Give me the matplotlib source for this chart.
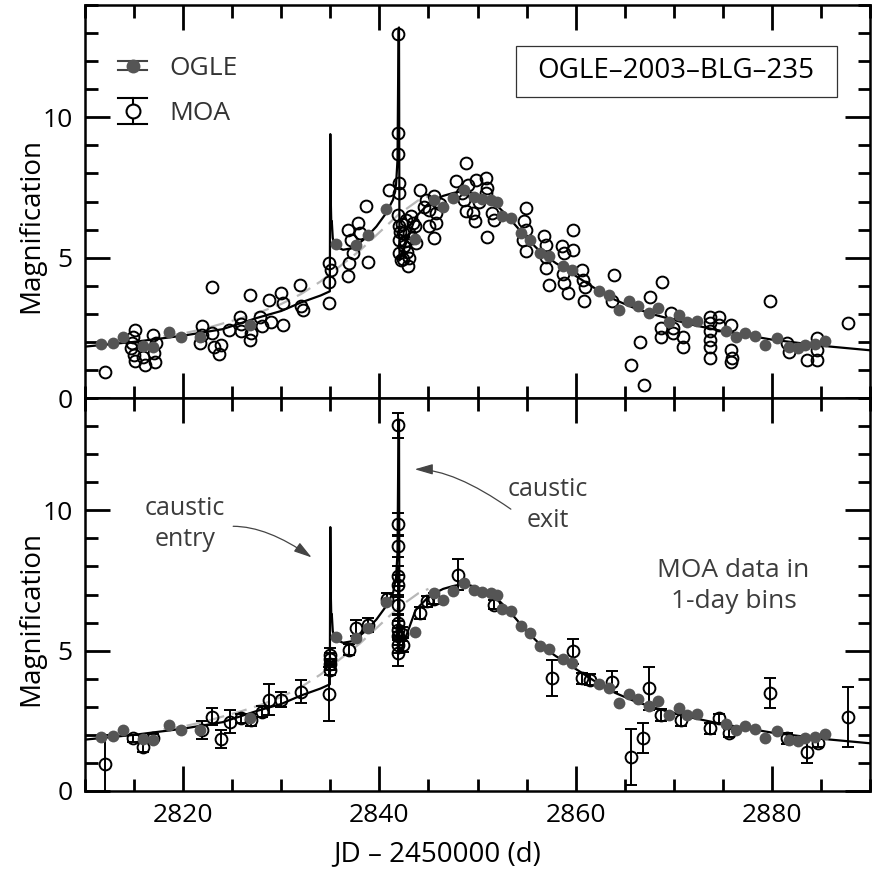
import matplotlib
matplotlib.use('Agg')
import matplotlib.pyplot as plt
from matplotlib.legend_handler import HandlerBase
from matplotlib.lines import Line2D
from matplotlib.patches import Rectangle
from matplotlib.ticker import MultipleLocator

plt.rcParams['font.family'] = ['Open Sans', 'DejaVu Sans']

# OGLE photometry (JD - 2450000, magnification)
ogle_t = [2811.6, 2812.9, 2813.9, 2815.9, 2816.9, 2818.6, 2819.8, 2821.7, 2826.8,
          2835.6, 2837.6, 2838.8, 2840.7, 2843.6, 2845.6, 2846.5, 2847.5, 2848.6,
          2849.6, 2850.5, 2851.4, 2852.0, 2852.5, 2853.4, 2854.4, 2855.4, 2856.4,
          2857.3, 2858.7, 2859.6, 2862.4, 2863.4, 2864.4, 2865.4, 2866.4, 2867.5,
          2868.4, 2869.5, 2870.5, 2871.4, 2872.4, 2875.3, 2876.3, 2877.3, 2878.3,
          2879.3, 2880.5, 2881.7, 2882.7, 2883.4, 2884.4, 2885.4]
ogle_A = [1.93, 1.95, 2.17, 1.85, 1.80, 2.36, 2.19, 2.19, 2.61,
          5.50, 5.45, 5.82, 6.74, 5.66, 7.07, 6.80, 7.14, 7.42,
          7.16, 7.10, 7.04, 7.00, 6.50, 6.41, 5.89, 5.62, 5.18,
          5.07, 4.69, 4.55, 3.82, 3.68, 3.14, 3.44, 3.28, 3.04,
          3.22, 2.70, 2.96, 2.70, 2.73, 2.37, 2.19, 2.31, 2.22,
          1.89, 2.15, 1.80, 1.77, 1.88, 1.92, 2.04]

# MOA photometry, unbinned (top panel)
moa_t = [2812.0, 2815.1, 2814.9, 2814.7, 2815.0, 2815.1, 2816.1, 2816.9, 2817.2, 2817.1,
         2815.9, 2814.8, 2817.0,
         2821.9, 2821.9, 2821.7, 2822.9, 2822.9, 2823.1, 2823.9, 2823.7, 2824.7, 2825.8,
         2825.9, 2825.9, 2826.8, 2826.9, 2826.8, 2827.8, 2828.0, 2828.8, 2829.0, 2830.0,
         2830.2, 2830.2, 2831.9, 2832.0, 2832.2, 2834.9, 2835.1, 2834.9, 2834.9,
         2836.8, 2837.1, 2836.95, 2836.8, 2837.3, 2837.8, 2838.0, 2838.6, 2838.8, 2841.0,
         2842.0, 2842.0, 2841.9, 2841.9, 2841.9, 2841.9,
         2842.0, 2842.4, 2842.7, 2843.05, 2843.6, 2842.0, 2842.0, 2842.2, 2842.9, 2843.05,
         2842.5, 2843.7, 2843.2, 2842.3, 2842.6, 2842.8, 2843.3, 2842.1, 2842.4, 2843.4,
         2844.1, 2844.75, 2845.6, 2845.1, 2845.1, 2845.8, 2845.6, 2845.8, 2844.5, 2846.2,
         2847.8, 2848.8, 2848.6, 2848.8, 2849.8, 2849.7, 2850.85, 2851.0, 2851.0, 2850.85,
         2851.5, 2851.7, 2849.0, 2848.4, 2850.2, 2849.5,
         2854.9, 2854.75, 2854.9, 2854.9, 2854.6, 2856.8, 2857.0, 2857.0, 2857.0, 2857.3,
         2858.6, 2858.8, 2859.7, 2859.7, 2858.8, 2859.2, 2860.7, 2860.85, 2861.0, 2858.7,
         2860.8,
         2863.7, 2863.9, 2867.6, 2868.8, 2866.6, 2865.6, 2867.0, 2868.65, 2868.7, 2869.7,
         2869.9, 2869.9, 2870.9, 2870.9,
         2873.7, 2873.7, 2873.7, 2873.7, 2873.7, 2873.7, 2874.6, 2874.6, 2875.8, 2875.8,
         2875.9, 2875.8,
         2879.8, 2881.5, 2881.7, 2883.6, 2884.6, 2884.6, 2884.6, 2887.8]
moa_A = [0.94, 2.43, 2.16, 1.77, 1.53, 1.33, 1.18, 2.25, 1.95, 1.29,
         1.47, 1.95, 1.60,
         2.55, 2.25, 1.95, 3.97, 2.31, 1.83, 1.89, 1.57, 2.43, 2.90,
         2.64, 2.37, 3.68, 2.31, 2.07, 2.90, 2.55, 3.50, 2.72, 3.74,
         3.38, 2.60, 4.03, 3.26, 3.14, 4.81, 4.57, 4.15, 3.40,
         6.00, 5.64, 4.81, 4.33, 5.16, 6.23, 5.88, 6.83, 4.86, 7.42,
         7.66, 7.30, 9.45, 8.70, 12.98, 6.53,
         6.11, 5.88, 6.35, 5.88, 6.11, 5.64, 5.16, 4.92, 4.69, 4.98,
         5.40, 5.52, 6.47, 6.20, 5.60, 5.20, 5.70, 5.90, 4.95, 6.25,
         7.42, 7.07, 7.19, 6.71, 6.11, 6.23, 5.70, 6.59, 6.80, 6.90,
         7.72, 8.38, 7.07, 6.65, 7.78, 6.29, 7.84, 7.48, 5.73, 7.30,
         6.59, 6.35, 7.60, 7.30, 7.00, 6.59,
         6.77, 6.29, 6.00, 5.22, 5.64, 5.76, 5.46, 5.04, 4.63, 4.03,
         5.40, 5.16, 6.00, 5.28, 4.09, 3.73, 4.57, 3.44, 3.97, 4.40,
         4.20,
         3.44, 4.39, 3.61, 4.12, 2.01, 1.17, 0.46, 2.19, 2.49, 3.02,
         2.49, 2.31, 2.19, 1.83,
         2.90, 2.66, 2.07, 1.83, 1.41, 2.40, 2.90, 2.60, 2.60, 1.71,
         1.41, 1.30,
         3.44, 1.95, 1.65, 1.35, 1.35, 1.71, 2.13, 2.66]

# MOA photometry in 1-day bins (bottom panel)
bin_t = [2812.0, 2814.9, 2815.9, 2816.9, 2821.9, 2822.9, 2823.9, 2824.75, 2825.9, 2826.9,
         2828.0, 2828.8, 2830.0, 2832.0, 2834.9, 2834.95, 2834.95, 2834.95, 2834.95,
         2836.95, 2837.6, 2838.8, 2840.8,
         2841.9, 2841.9, 2841.9, 2841.9, 2841.9, 2841.9, 2841.9, 2841.9, 2841.9, 2841.9,
         2841.9, 2842.3, 2842.4, 2844.1, 2844.9, 2845.6, 2848.0, 2851.7,
         2857.6, 2859.7, 2860.7, 2861.5, 2863.7, 2865.6, 2866.9, 2867.5, 2868.65, 2870.7,
         2873.7, 2874.6, 2875.6, 2879.8, 2881.5, 2883.6, 2884.75, 2887.8]
bin_A = [0.96, 1.88, 1.56, 1.88, 2.18, 2.65, 1.84, 2.47, 2.59, 2.53,
         2.83, 3.25, 3.25, 3.54, 3.45, 4.32, 4.52, 4.70, 4.85,
         5.03, 5.81, 5.93, 6.85,
         13.03, 9.50, 8.72, 7.65, 7.35, 6.62, 5.98, 5.75, 5.51, 5.21,
         4.91, 5.60, 5.20, 6.34, 6.76, 6.85, 7.71, 6.64,
         4.02, 4.97, 4.02, 3.96, 3.90, 1.22, 1.90, 3.66, 2.71, 2.53,
         2.24, 2.59, 2.06, 3.49, 1.88, 1.40, 1.70, 2.65]
bin_err = [1.04, 0.12, 0.18, 0.15, 0.32, 0.30, 0.32, 0.42, 0.15, 0.20,
           0.20, 0.55, 0.27, 0.42, 0.95, 0.20, 0.20, 0.20, 0.25,
           0.20, 0.28, 0.25, 0.20,
           0.45, 0.40, 0.40, 0.35, 0.35, 0.30, 0.30, 0.30, 0.30, 0.30,
           0.47, 0.25, 0.25, 0.20, 0.20, 0.20, 0.54, 0.15,
           0.63, 0.46, 0.20, 0.20, 0.39, 1.00, 0.54, 0.77, 0.20, 0.20,
           0.20, 0.15, 0.15, 0.54, 0.20, 0.42, 0.15, 1.07]

# binary-lens model curve
model_t = [2810, 2815, 2820, 2824, 2827.5, 2830, 2832, 2834, 2834.95, 2835.0, 2835.05,
           2835.1, 2835.15, 2835.25, 2835.5, 2836.3, 2837.3, 2838.6, 2839.7, 2840.7,
           2841.4, 2841.7, 2841.85, 2841.95, 2842.0, 2842.05, 2842.3, 2842.7, 2843.7,
           2845.1, 2846.5, 2847.5, 2848.6, 2849.5, 2850.5, 2852, 2853, 2854, 2855, 2856,
           2857, 2858, 2859, 2860, 2862, 2864, 2866, 2868, 2870, 2872, 2875, 2878, 2880,
           2883, 2886, 2890]
model_A = [1.83, 2.0, 2.22, 2.45, 2.85, 3.1, 3.4, 3.65, 3.8, 9.4, 7.0,
           6.2, 6.3, 5.7, 5.4, 5.28, 5.34, 5.7, 6.11, 6.59,
           7.07, 7.6, 8.5, 13.1, 13.2, 4.9, 5.1, 5.5, 6.45,
           6.95, 7.2, 7.3, 7.38, 7.3, 7.15, 6.85, 6.5, 6.1, 5.7, 5.35,
           5.05, 4.8, 4.6, 4.35, 3.9, 3.5, 3.2, 2.97, 2.78, 2.6, 2.38, 2.2, 2.08,
           1.95, 1.83, 1.7]

# single-lens curve (grey dashed)
single_t = [2818, 2820, 2822, 2824, 2826, 2828, 2830, 2832, 2834, 2836, 2838, 2840,
            2842, 2844, 2845]
single_A = [2.2, 2.3, 2.45, 2.65, 2.85, 3.08, 3.35, 3.7, 4.15, 4.7, 5.25, 5.9,
            6.55, 7.05, 7.2]

ogle_col = '#555555'


class ErrKey(HandlerBase):
    def __init__(self, half, filled):
        super().__init__()
        self.half = half
        self.filled = filled

    def create_artists(self, legend, orig_handle, xdescent, ydescent, width, height,
                       fontsize, trans):
        cx = 0.5 * width - xdescent
        cy = 0.5 * (height - ydescent)
        h, w = self.half, 10.5
        col = '#444444' if self.filled else 'k'
        arts = [Line2D([cx, cx], [cy - h, cy + h], color=col, lw=1.5),
                Line2D([cx - w, cx + w], [cy + h, cy + h], color=col, lw=1.5),
                Line2D([cx - w, cx + w], [cy - h, cy - h], color=col, lw=1.5)]
        if self.filled:
            arts.append(Line2D([cx], [cy], marker='o', ms=10, color=ogle_col, mew=0))
        else:
            arts.append(Line2D([cx], [cy], marker='o', ms=10, mfc='white', mec='k', mew=1.5))
        for art in arts:
            art.set_transform(trans)
        return arts


def style_axes(ax):
    ax.set_xlim(2810, 2890)
    ax.set_ylim(0, 14)
    ax.xaxis.set_major_locator(MultipleLocator(20))
    ax.xaxis.set_minor_locator(MultipleLocator(5))
    ax.yaxis.set_major_locator(MultipleLocator(5))
    ax.yaxis.set_minor_locator(MultipleLocator(1))
    ax.tick_params(which='both', direction='in', top=True, right=True, width=2,
                   color='k', labelsize=19, pad=9)
    ax.tick_params(which='major', length=18)
    ax.tick_params(which='minor', length=9)
    for sp in ax.spines.values():
        sp.set_linewidth(1.8)


fig = plt.figure(figsize=(8.79, 8.76), dpi=100)
ax1 = fig.add_axes([85 / 879, 1 - 398 / 876, 785 / 879, 393 / 876])
ax2 = fig.add_axes([85 / 879, 1 - 791 / 876, 785 / 879, 393 / 876], sharex=ax1)

for ax in (ax1, ax2):
    ax.set_axisbelow(False)
    ax.plot(single_t, single_A, color='#b8b8b8', lw=1.6, ls=(0, (7, 3.5)), zorder=2)
    ax.plot(model_t, model_A, color='k', lw=1.6, zorder=2.1)
    ax.plot(ogle_t, ogle_A, 'o', color=ogle_col, ms=8.5, mew=0, zorder=4)
    ax.set_ylabel('Magnification', fontsize=20)
    ax.yaxis.set_label_coords(-0.05, 0.44)

ax1.plot(moa_t, moa_A, 'o', mfc='none', mec='k', ms=8.5, mew=1.4, zorder=3)
ax2.errorbar(bin_t, bin_A, yerr=bin_err, fmt='o', mfc='none', mec='k', ms=8.5, mew=1.4,
             ecolor='k', elinewidth=1.4, capsize=4, capthick=1.4, zorder=3)

# legend
h_ogle = Line2D([], [])
h_moa = Line2D([], [])
leg = ax1.legend([h_ogle, h_moa], ['OGLE', 'MOA'],
                 handler_map={h_ogle: ErrKey(3.2, True), h_moa: ErrKey(9.4, False)},
                 loc='upper left', bbox_to_anchor=(0.034, 0.87), frameon=False,
                 fontsize=19, handlelength=1.6, handletextpad=0.6, labelspacing=0.75,
                 borderpad=0, borderaxespad=0)
for txt in leg.get_texts():
    txt.set_color('#333333')

ax1.add_patch(Rectangle((0.549, 0.766), 0.409, 0.130, transform=ax1.transAxes,
                        fill=False, ec='#333333', lw=0.9, zorder=5))
ax1.text(0.753, 0.831, 'OGLE\u20132003\u2013BLG\u2013235', transform=ax1.transAxes,
         ha='center', va='center', fontsize=20, color='k')

# annotations
txt_col = '#3c3c3c'
ax2.text(2820.2, 9.5, 'caustic\nentry', ha='center', va='center', fontsize=18,
         color=txt_col, linespacing=1.3)
ax2.text(2857.2, 10.2, 'caustic\nexit', ha='center', va='center', fontsize=18,
         color=txt_col, linespacing=1.3)
ax2.text(2876.1, 7.3, 'MOA data in\n1-day bins', ha='center', va='center', fontsize=19,
         color=txt_col, linespacing=1.35)
ax2.annotate('', xy=(2833.1, 8.32), xytext=(2825.1, 9.43),
             arrowprops=dict(arrowstyle='-|>,head_length=0.55,head_width=0.16',
                             connectionstyle='angle3,angleA=0,angleB=-35',
                             color='#444444', lw=0.9, shrinkA=0, shrinkB=0,
                             mutation_scale=20))
ax2.annotate('', xy=(2843.6, 11.46), xytext=(2853.4, 10.04),
             arrowprops=dict(arrowstyle='-|>,head_length=0.55,head_width=0.16',
                             connectionstyle='angle3,angleA=145,angleB=0',
                             color='#444444', lw=0.9, shrinkA=0, shrinkB=0,
                             mutation_scale=20))

ax2.set_xlabel('JD \u2013 2450000 (d)', fontsize=20)
ax2.xaxis.set_label_coords(0.448, -0.125)

style_axes(ax1)
style_axes(ax2)
ax1.tick_params(labelbottom=False)

fig.savefig('out.png', dpi=100)
